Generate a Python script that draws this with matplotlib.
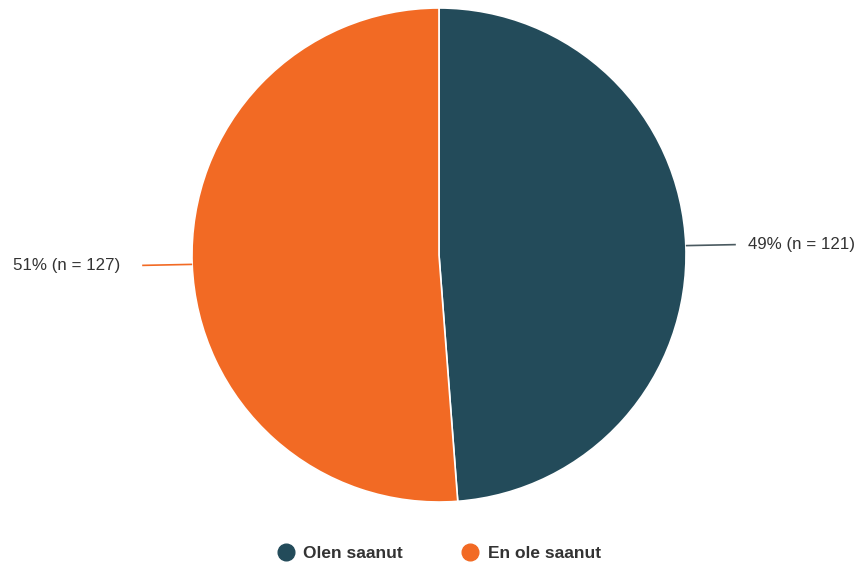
import numpy as np
import matplotlib.pyplot as plt
from matplotlib.lines import Line2D

# --- Survey answers ---
categories = ["Olen saanut", "En ole saanut"]
counts = [121, 127]
percents = [49, 51]
colors = ["#234b5a", "#f26a24"]

plt.rcParams["font.family"] = ["Liberation Sans", "DejaVu Sans"]

fig = plt.figure(figsize=(8.59, 5.62), dpi=100)
ax = fig.add_axes([0, 0, 1, 1])

cx, cy, r = 439, 307, 247
start = 90

ax.pie(
    counts,
    colors=colors,
    startangle=start,
    counterclock=False,
    center=(cx, cy),
    radius=r,
    wedgeprops={"edgecolor": "white", "linewidth": 1.2},
    frame=True,
)
ax.set_xlim(0, 859)
ax.set_ylim(0, 562)
ax.set_aspect("equal")
ax.axis("off")

# --- Outside labels with leader lines ---
total = sum(counts)
acc = 0
for n, p in zip(counts, percents):
    mid = start - 360 * (acc + n / 2) / total
    acc += n
    a = np.deg2rad(mid)
    x0, y0 = cx + r * np.cos(a), cy + r * np.sin(a)
    side = 1 if np.cos(a) > 0 else -1
    x1 = x0 + side * 50
    ax.plot([x0, x1], [y0, y0 + side * 1], color="#4a5a60" if side > 0 else colors[1],
            lw=1.2, solid_capstyle="butt")
    gap = 12 if side > 0 else 22
    ax.text(x1 + side * gap, y0 + side * 1, f"{p}% (n = {n})",
            ha="left" if side > 0 else "right", va="center",
            fontsize=12.2, color="#333333")

# --- Legend ---
handles = [Line2D([], [], marker="o", ls="", markersize=12, markerfacecolor=c,
                  markeredgecolor=c) for c in colors]
leg = fig.legend(handles, categories, loc="center", bbox_to_anchor=(0.511, 0.016),
                 ncol=2, frameon=False, handlelength=1.0, handletextpad=0.5,
                 columnspacing=3.4, prop={"size": 12.5, "weight": "bold"})
for t in leg.get_texts():
    t.set_color("#333333")

fig.savefig("out.png", dpi=100)
